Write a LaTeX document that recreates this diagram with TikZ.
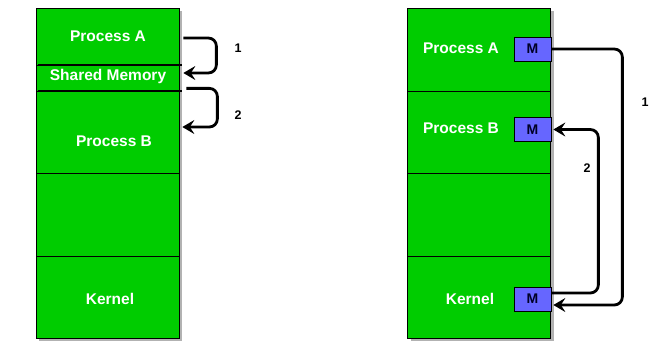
\documentclass[tikz,border=0pt]{standalone}
\usepackage{fontspec}
\setmainfont{Liberation Sans}
\usetikzlibrary{arrows.meta}
\definecolor{cellgreen}{HTML}{00CC00}
\definecolor{mblue}{HTML}{6666FF}
\begin{document}
\begin{tikzpicture}[x=1pt,y=-1pt,
  shadowbox/.style={fill=black!30,draw=none,minimum width=143pt,inner sep=0pt},
  cell/.style={draw=black,line width=0.7pt,fill=cellgreen,minimum width=143pt,inner sep=0pt},
  lbl/.style={text=white,font=\bfseries\fontsize{15.5}{17}\selectfont,inner sep=0pt},
  mbox/.style={draw=black,line width=0.7pt,fill=mblue,minimum width=37pt,minimum height=24pt,inner sep=0pt,
    font=\bfseries\fontsize{14}{16}\selectfont,text=black!85!blue},
  num/.style={font=\bfseries\fontsize{12.5}{14}\selectfont,inner sep=0pt},
  arr/.style={line width=2.8pt,rounded corners=8pt,-{Stealth[length=12pt,width=14pt,inset=4.5pt]}}
]
\useasboundingbox (0,0) rectangle (651,362);
% shadows
\node[shadowbox,minimum height=330pt] (sL) at (110.5,176) {};
\node[shadowbox,minimum height=330pt] (sR) at (482,176) {};
% left column
\node[cell,minimum height=57pt] (lA) at (107.5,36.5) {};
\node[cell,minimum height=26pt] (lS) at (107.5,78) {};
\node[cell,minimum height=82pt] (lB) at (107.5,132) {};
\node[cell,minimum height=83pt] (lE) at (107.5,214.5) {};
\node[cell,minimum height=82pt] (lK) at (107.5,297) {};
\draw[line width=2pt] ([xshift=2pt]lS.north west) -- ([xshift=3pt]lS.north east);
\draw[line width=2pt] ([xshift=2pt]lS.south west) -- ([xshift=3pt]lS.south east);
\node[lbl] (tA) at (108,36) {Process A};
\node[lbl] (tS) at (108,76) {Shared Memory};
\node[lbl] (tB) at (114,141) {Process B};
\node[lbl] (tK) at (110,299) {Kernel};
% right column
\node[cell,minimum height=83pt] (rA) at (479,49.5) {};
\node[cell,minimum height=82pt] (rB) at (479,132) {};
\node[cell,minimum height=83pt] (rE) at (479,214.5) {};
\node[cell,minimum height=82pt] (rK) at (479,297) {};
\node[lbl] (uA) at (461,48) {Process A};
\node[lbl] (uB) at (461,128) {Process B};
\node[lbl] (uK) at (470,299) {Kernel};
\node[mbox] (mA) at (532.5,49) {M};
\node[mbox] (mB) at (532.5,129.5) {M};
\node[mbox] (mK) at (532.5,299) {M};
% left arrows
\draw[arr,shorten <=4pt,shorten >=4pt] ([yshift=-1.5pt]lA.east) -- ++(37,0) |- ([yshift=5pt]lS.east);
\draw[arr,shorten <=7pt,shorten >=3pt] ([yshift=3pt]lS.south east) -- ++(38,0) |- ([yshift=5pt]lB.east);
\node[num] (n1) at (238,48) {1};
\node[num] (n2) at (238,115) {2};
% right arrows
\draw[arr,shorten >=2pt] (mA.east) -- ++(71,0) |- ([yshift=-6pt]mK.east);
\draw[arr,shorten >=2pt] ([yshift=6pt]mK.east) -- ++(47,0) |- (mB.east);
\node[num] (n3) at (645,102) {1};
\node[num] (n4) at (587,168) {2};
\end{tikzpicture}
\end{document}
